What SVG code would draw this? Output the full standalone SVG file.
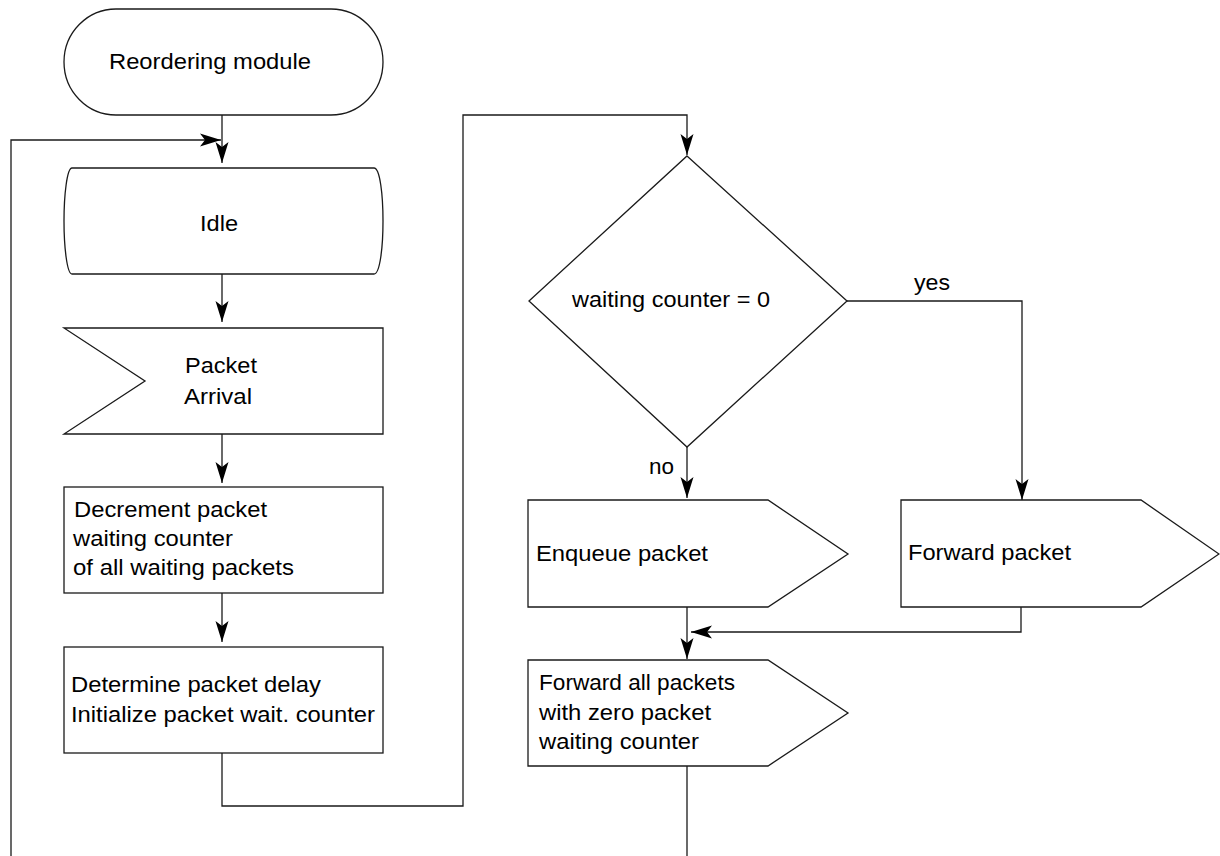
<svg xmlns="http://www.w3.org/2000/svg" width="1220" height="856" viewBox="0 0 1220 856">
  <style>
    .shape { fill: #ffffff; stroke: #1a1a1a; stroke-width: 1.3; }
    .edge { fill: none; stroke: #1a1a1a; stroke-width: 1.3; }
    .label { font-family: "Liberation Sans", Arial, sans-serif; font-size: 22px; fill: #000000; }
  </style>
  <defs>
    <marker id="arrow" markerUnits="userSpaceOnUse" markerWidth="24" markerHeight="16" refX="22" refY="7" orient="auto">
      <path d="M22,7 L1,0.5 L6,7 L1,13.5 Z" fill="#000000"/>
    </marker>
  </defs>

  <rect width="1220" height="856" fill="#ffffff"/>

  <!-- connectors -->
  <g id="connectors">
    <path class="edge" d="M222,115 V163" marker-end="url(#arrow)"/>
    <path class="edge" d="M11,856 V140 H221" marker-end="url(#arrow)"/>
    <path class="edge" d="M222,274 V322" marker-end="url(#arrow)"/>
    <path class="edge" d="M222,434 V483" marker-end="url(#arrow)"/>
    <path class="edge" d="M222,593 V642" marker-end="url(#arrow)"/>
    <path class="edge" d="M222,753 V806 H463 V115 H687 V155" marker-end="url(#arrow)"/>
    <path class="edge" d="M847,301 H1022 V500" marker-end="url(#arrow)"/>
    <path class="edge" d="M687,447 V498" marker-end="url(#arrow)"/>
    <path class="edge" d="M687,607 V659" marker-end="url(#arrow)"/>
    <path class="edge" d="M1021,607 V632 H691" marker-end="url(#arrow)"/>
    <path class="edge" d="M687,766 V856"/>
    <text class="label" x="914" y="290" textLength="36" lengthAdjust="spacingAndGlyphs">yes</text>
    <text class="label" x="649" y="474" textLength="25" lengthAdjust="spacingAndGlyphs">no</text>
  </g>

  <!-- start terminal -->
  <g id="start">
    <rect class="shape" x="64" y="9" width="319" height="106" rx="52" ry="53"/>
    <text class="label" x="109" y="69" textLength="202" lengthAdjust="spacingAndGlyphs">Reordering module</text>
  </g>

  <!-- idle state -->
  <g id="idle">
    <path class="shape" d="M72,168 H374 C380,168 383,195 383,221 C383,247 380,274 374,274 H72 C67,274 64,247 64,221 C64,195 67,168 72,168 Z"/>
    <text class="label" x="200" y="231" textLength="38" lengthAdjust="spacingAndGlyphs">Idle</text>
  </g>

  <!-- receive signal -->
  <g id="packet-arrival">
    <polygon class="shape" points="64,328 383,328 383,434 64,434 145,381"/>
    <text class="label" x="185" y="373" textLength="72" lengthAdjust="spacingAndGlyphs">Packet</text>
    <text class="label" x="184" y="404" textLength="68" lengthAdjust="spacingAndGlyphs">Arrival</text>
  </g>

  <g id="decrement">
    <rect class="shape" x="64" y="487" width="319" height="106"/>
    <text class="label" x="74" y="517" textLength="193" lengthAdjust="spacingAndGlyphs">Decrement packet</text>
    <text class="label" x="73" y="546" textLength="160" lengthAdjust="spacingAndGlyphs">waiting counter</text>
    <text class="label" x="73" y="575" textLength="221" lengthAdjust="spacingAndGlyphs">of all waiting packets</text>
  </g>

  <g id="determine">
    <rect class="shape" x="64" y="647" width="319" height="106"/>
    <text class="label" x="71" y="692" textLength="250" lengthAdjust="spacingAndGlyphs">Determine packet delay</text>
    <text class="label" x="71" y="722" textLength="304" lengthAdjust="spacingAndGlyphs">Initialize packet wait. counter</text>
  </g>

  <!-- decision -->
  <g id="decision">
    <polygon class="shape" points="687,156 847,301 687,447 529,301"/>
    <text class="label" x="572" y="307" textLength="198" lengthAdjust="spacingAndGlyphs">waiting counter = 0</text>
  </g>

  <!-- send signals -->
  <g id="enqueue">
    <polygon class="shape" points="528,500 768,500 848,554 768,607 528,607"/>
    <text class="label" x="536" y="561" textLength="172" lengthAdjust="spacingAndGlyphs">Enqueue packet</text>
  </g>

  <g id="forward">
    <polygon class="shape" points="901,500 1141,500 1219,554 1141,607 901,607"/>
    <text class="label" x="908" y="560" textLength="163" lengthAdjust="spacingAndGlyphs">Forward packet</text>
  </g>

  <g id="forward-all">
    <polygon class="shape" points="528,660 768,660 848,713 768,766 528,766"/>
    <text class="label" x="539" y="690" textLength="196" lengthAdjust="spacingAndGlyphs">Forward all packets</text>
    <text class="label" x="539" y="720" textLength="172" lengthAdjust="spacingAndGlyphs">with zero packet</text>
    <text class="label" x="539" y="749" textLength="160" lengthAdjust="spacingAndGlyphs">waiting counter</text>
  </g>
</svg>
